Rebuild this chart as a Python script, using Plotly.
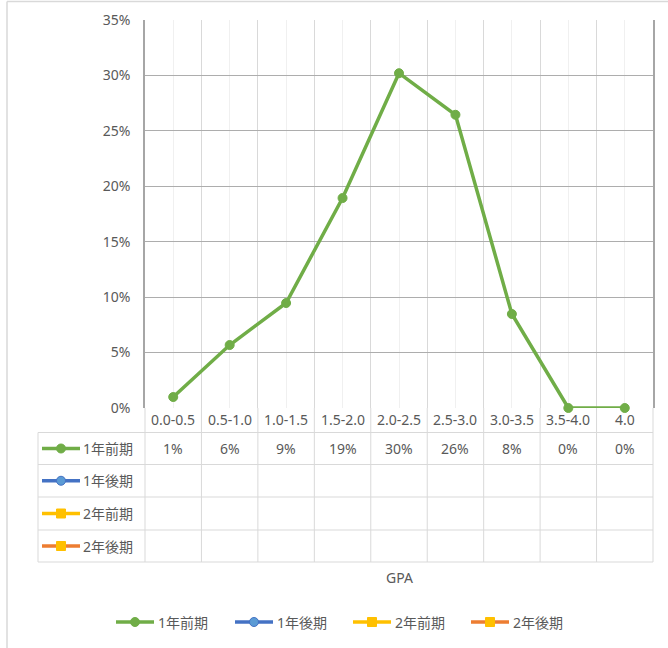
import plotly.graph_objects as go

# ---------------- data ----------------
categories = ["0.0-0.5", "0.5-1.0", "1.0-1.5", "1.5-2.0", "2.0-2.5",
              "2.5-3.0", "3.0-3.5", "3.5-4.0", "4.0"]
series_names = ["1年前期", "1年後期", "2年前期", "2年後期"]
s1_first = [0.0099, 0.0568, 0.0947, 0.1894, 0.3020, 0.2645, 0.0848, 0.0, 0.0]
s1_second = [None] * 9
s2_first = [None] * 9
s2_second = [None] * 9
series_values = [s1_first, s1_second, s2_first, s2_second]
y_ticks = [0, 0.05, 0.10, 0.15, 0.20, 0.25, 0.30, 0.35]
x_title = "GPA"

# ---------------- styles ----------------
W, H = 668, 648
L, R, T, B = 145, 15, 20, 240
PW, PH = W - L - R, H - T - B
line_colors = ["#70AD47", "#4472C4", "#FFC000", "#ED7D31"]
marker_colors = ["#70AD47", "#5B9BD5", "#FFC000", "#FFC000"]
marker_line = ["#70AD47", "#4472C4", "#FFC000", "#FFC000"]
symbols = ["circle", "circle", "square", "square"]
TXT = "#595959"
FONT = "Noto Sans, Noto Sans CJK JP"
TBL = "#d9d9d9"


def px(x):
    return (x - L) / PW


def py(y):
    return (T + PH - y) / PH


xs = list(range(len(categories)))
fig = go.Figure()
for i, name in enumerate(series_names):
    fig.add_trace(go.Scatter(
        x=xs, y=series_values[i], name=name, mode="lines+markers",
        line=dict(color=line_colors[i], width=3.5),
        marker=dict(symbol=symbols[i], size=9, color=marker_colors[i],
                    line=dict(color=marker_line[i], width=1)),
        cliponaxis=False, showlegend=False,
    ))

shapes = []
annotations = []
n = len(categories)
cw = PW / n
row_lines = [432.5, 464.5, 497, 530, 562]
row_centers = [(row_lines[k] + row_lines[k + 1]) / 2 for k in range(4)]
tleft = 38
bottom = T + PH


def hline(x0, x1, y, color=TBL, width=1):
    shapes.append(dict(type="line", xref="paper", yref="paper", x0=px(x0), x1=px(x1),
                       y0=py(y), y1=py(y), line=dict(color=color, width=width)))


def vline(x, y0, y1, color=TBL, width=1):
    shapes.append(dict(type="line", xref="paper", yref="paper", x0=px(x), x1=px(x),
                       y0=py(y0), y1=py(y1), line=dict(color=color, width=width)))


def key(xl, xr, yc, i):
    hline(xl, xr, yc, color=line_colors[i], width=3.5)
    xm = (xl + xr) / 2
    r = 4.5
    shapes.append(dict(type="circle" if symbols[i] == "circle" else "rect",
                       xref="paper", yref="paper", x0=px(xm - r), x1=px(xm + r),
                       y0=py(yc + r), y1=py(yc - r), fillcolor=marker_colors[i],
                       line=dict(color=marker_line[i], width=1)))


def text(x, y, s, size=14, xanchor="center", xref="paper"):
    annotations.append(dict(x=x, xref=xref, y=py(y), yref="paper", text=s, showarrow=False,
                            xanchor=xanchor, yanchor="middle",
                            font=dict(size=size, color=TXT, family=FONT)))


# table grid
for yl in row_lines:
    hline(tleft, L + PW, yl)
vline(tleft, row_lines[0], row_lines[-1])
for k in range(n + 1):
    vline(L + k * cw, bottom, row_lines[-1])

# outer chart border (left and top)
vline(7, 1.5, H + 5, color="#d9d9d9", width=1.5)
hline(7, W + 5, 1.5, color="#d9d9d9", width=1.5)

# category labels and values
for k, c in enumerate(categories):
    text(k, 420, c, xref="x")
    v = s1_first[k]
    text(k, row_centers[0], f"{round(v * 100):.0f}%", xref="x")

# row legend keys
for i, name in enumerate(series_names):
    yc = row_centers[i]
    key(42, 80, yc, i)
    text(px(81), yc, name, xanchor="left")

# axis title
text(0.5, 577, x_title)

# bottom legend
leg_x = [116, 235, 353, 471]
for i, name in enumerate(series_names):
    key(leg_x[i], leg_x[i] + 38, 622, i)
    text(px(leg_x[i] + 40), 622, name, xanchor="left")

fig.update_layout(
    width=W, height=H,
    margin=dict(l=L, r=R, t=T, b=B, autoexpand=False),
    paper_bgcolor="white", plot_bgcolor="white",
    font=dict(family=FONT, color=TXT, size=14),
    shapes=shapes, annotations=annotations,
    showlegend=False,
    xaxis=dict(range=[-0.5, n - 0.5], tickmode="array",
               tickvals=[k - 0.5 for k in range(n + 1)], showticklabels=False,
               showgrid=True, gridcolor="#d9d9d9", gridwidth=1, zeroline=False,
               minor=dict(tickmode="array", tickvals=xs, showgrid=True,
                          gridcolor="#f0f0f0", gridwidth=1),
               fixedrange=True),
    yaxis=dict(range=[0, 0.35], tickmode="array", tickvals=y_ticks, tickformat=".0%",
               showgrid=True, gridcolor="#adadad", gridwidth=1, zeroline=False,
               showline=True, linecolor="#a6a6a6", linewidth=1.5, mirror=True,
               ticklabelstandoff=10, tickfont=dict(size=14, color=TXT, family=FONT),
               fixedrange=True),
)

fig.write_html("out.html", config={"displayModeBar": False},
               post_script="document.body.style.margin='0';")
